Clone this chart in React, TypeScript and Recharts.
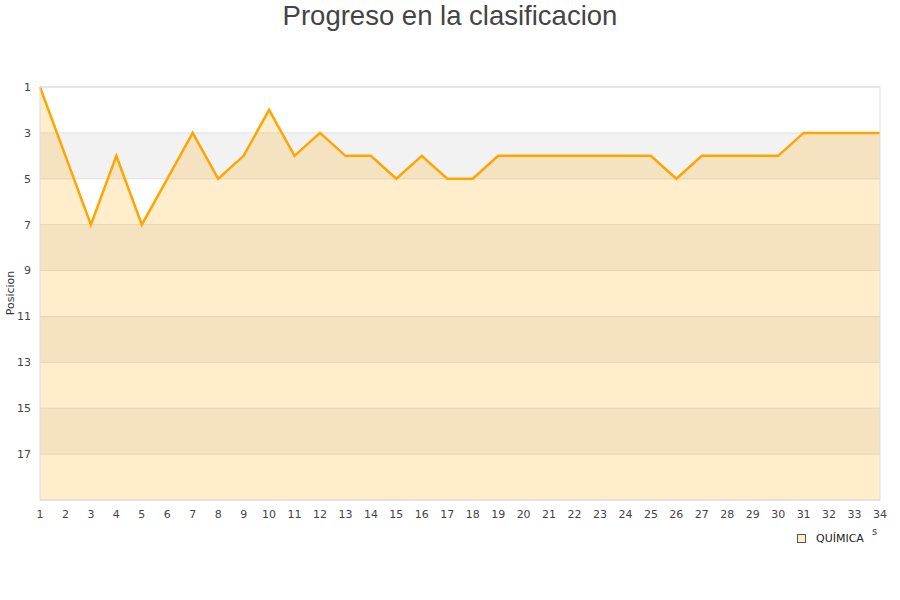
import React from 'react'
import {
	AreaChart,
	Area,
	XAxis,
	YAxis,
	CartesianGrid,
	ReferenceArea,
} from 'recharts'

// Jornadas and the team's league position after each one
const jornadas = [
	1, 2, 3, 4, 5, 6, 7, 8, 9, 10, 11, 12, 13, 14, 15, 16, 17, 18, 19, 20, 21,
	22, 23, 24, 25, 26, 27, 28, 29, 30, 31, 32, 33, 34,
]
const posiciones = [
	1, 4, 7, 4, 7, 5, 3, 5, 4, 2, 4, 3, 4, 4, 5, 4, 5, 5, 4, 4, 4, 4, 4, 4, 4, 5,
	4, 4, 4, 4, 3, 3, 3, 3,
]
const yTicks = [1, 3, 5, 7, 9, 11, 13, 15, 17]
const serieNombre = 'QUÍMICA'

const data = jornadas.map((j, i) => ({ jornada: j, posicion: posiciones[i] }))

const LINE = '#ffa500'
const TICK_FONT = { fontFamily: 'DejaVu Sans', fontSize: 11, fill: '#444' }

export default function App() {
	return (
		<div
			style={{
				position: 'fixed',
				left: 0,
				top: 0,
				width: 900,
				height: 600,
				background: '#fff',
			}}
		>
			<div
				style={{
					position: 'absolute',
					top: 0,
					width: 900,
					textAlign: 'center',
					fontFamily: 'Liberation Sans, Arial, sans-serif',
					fontSize: 27.5,
					lineHeight: '32px',
					color: '#444',
				}}
			>
				Progreso en la clasificacion
			</div>
			<AreaChart
				width={900}
				height={600}
				data={data}
				margin={{ top: 87, right: 20, bottom: 70, left: 0 }}
			>
				<CartesianGrid
					vertical={false}
					stroke="#e0e0e0"
					horizontalFill={['#ffffff', '#f2f2f2']}
					fillOpacity={1}
				/>
				<XAxis
					dataKey="jornada"
					type="number"
					domain={[1, 34]}
					ticks={jornadas}
					interval={0}
					tickLine={false}
					axisLine={false}
					tickMargin={4}
					tick={TICK_FONT}
				/>
				<YAxis
					type="number"
					domain={[1, 19]}
					reversed
					ticks={yTicks}
					interval={0}
					width={40}
					tickLine={false}
					axisLine={false}
					tickMargin={3}
					tick={TICK_FONT}
				/>
				<Area
					type="linear"
					dataKey="posicion"
					baseValue={19}
					stroke={LINE}
					strokeWidth={2.5}
					fill={LINE}
					fillOpacity={0.2}
					dot={false}
					activeDot={false}
					isAnimationActive={false}
				/>
				<ReferenceArea
					x1={1}
					x2={34}
					y1={1}
					y2={19}
					fill="none"
					stroke="#dddddd"
					strokeWidth={1}
				/>
			</AreaChart>
			<div
				style={{
					position: 'absolute',
					left: 1,
					top: 293,
					width: 20,
					height: 0,
					transform: 'rotate(-90deg)',
					transformOrigin: 'center',
				}}
			>
				<span
					style={{
						position: 'absolute',
						left: -20,
						top: -7,
						width: 60,
						textAlign: 'center',
						fontFamily: 'DejaVu Sans',
						fontSize: 11,
						color: '#333',
					}}
				>
					Posicion
				</span>
			</div>
			<div
				style={{
					position: 'absolute',
					left: 872,
					top: 526,
					fontFamily: 'DejaVu Sans',
					fontSize: 10,
					color: '#444',
				}}
			>
				s
			</div>
			<div
				style={{
					position: 'absolute',
					left: 797,
					top: 532,
					display: 'flex',
					alignItems: 'center',
					fontFamily: 'DejaVu Sans',
					fontSize: 11,
					color: '#222',
				}}
			>
				<span
					style={{
						display: 'inline-block',
						width: 7,
						height: 7,
						border: '1px solid #555',
						background: '#ffecc9',
						marginRight: 10,
					}}
				/>
				{serieNombre}
			</div>
		</div>
	)
}
